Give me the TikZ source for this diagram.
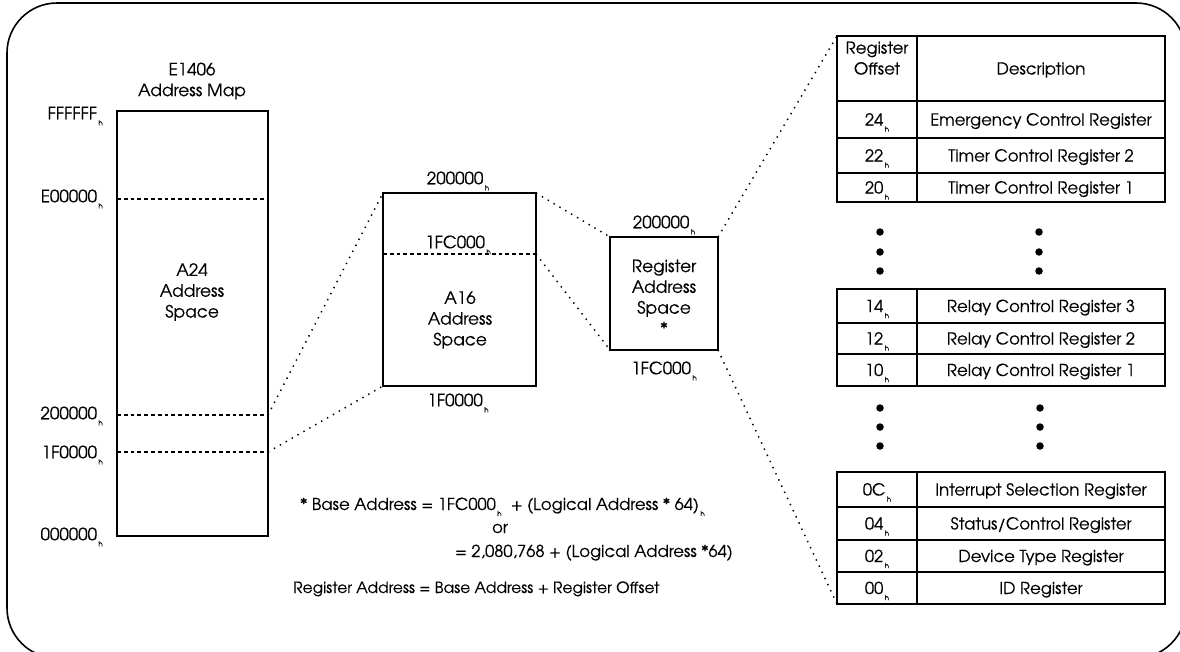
\documentclass[tikz,border=0pt]{standalone}
\usepackage{fontspec}
\setmainfont{TeX Gyre Adventor}[FakeBold=0.3]
\newcommand{\hs}{\kern1.5pt\raisebox{-6pt}{\fontsize{7}{7}\selectfont h}}
\newcommand{\regrow}[5]{%
  \node[cell, minimum width=80pt, minimum height=#3pt] (#1o) at (837,#2) {#4};
  \node[cell, minimum width=248pt, minimum height=#3pt] (#1d) at (917,#2) {#5};}
\begin{document}
\begin{tikzpicture}[x=1pt,y=-1pt,
  every node/.style={font=\fontsize{17}{20.8}\selectfont},
  box/.style={draw, line width=1.5pt, inner sep=0pt, outer sep=0pt, anchor=north west},
  cell/.style={draw, line width=1.5pt, inner sep=0pt, outer sep=0pt, anchor=north west,
    text height=12pt, text depth=0pt, align=center, font=\fontsize{16.5}{20.8}\selectfont},
  lbl/.style={inner sep=0pt, text height=12.5pt, text depth=0pt},
  txt/.style={inner sep=0pt, align=center},
  frm/.style={inner sep=0pt, font=\fontsize{16.5}{19}\selectfont},
  frmb/.style={inner sep=0pt, font=\fontsize{15.5}{19}\selectfont},
  dline/.style={line width=1.6pt, dash pattern=on 3.8pt off 3pt},
  dotline/.style={line width=1.5pt, dash pattern=on 1.4pt off 5.4pt},
  bigdot/.style={circle, fill, inner sep=0pt, minimum size=7.5pt}]
\useasboundingbox (0,0) rectangle (1180,651);
\begin{scope}
  \clip (0,0) rectangle (1180,651);
  \draw[line width=1.6pt, rounded corners=50pt] (7,3) rectangle (1186,658);
\end{scope}

% A24 map
\node[txt] (title) at (192,81) {E1406\\Address Map};
\node[box, minimum width=151pt, minimum height=425pt] (a24) at (117,111) {};
\node[txt] (a24t) at (192,292) {A24\\Address\\Space};
\coordinate (e0L) at (117,199); \coordinate (e0R) at (268,199);
\coordinate (m2L) at (117,415); \coordinate (m2R) at (268,415);
\coordinate (m1L) at (117,452); \coordinate (m1R) at (268,452);
\draw[dline] (e0L) -- (e0R);
\draw[dline] (m2L) -- (m2R);
\draw[dline] (m1L) -- (m1R);
\node[lbl, anchor=east] (lf) at (103,113) {FFFFFF\hs};
\node[lbl, anchor=east] (le) at (103,196) {E00000\hs};
\node[lbl, anchor=east] (l2) at (103,413) {200000\hs};
\node[lbl, anchor=east] (l1) at (103,452) {1F0000\hs};
\node[lbl, anchor=east] (l0) at (103,534) {000000\hs};

% A16
\node[box, minimum width=153pt, minimum height=193pt] (a16) at (383,193) {};
\coordinate (cL) at (383,254); \coordinate (cR) at (536,254);
\draw[dline] (cL) -- (cR);
\node[txt] (a16t) at (460,320) {A16\\Address\\Space};
\node[lbl] (a16top) at (458,178) {200000\hs};
\node[lbl] (a16mid) at (458,242) {1FC000\hs};
\node[lbl] (a16bot) at (458,400) {1F0000\hs};

% Register space
\node[box, minimum width=108pt, minimum height=113pt] (reg) at (610,237) {};
\node[txt] (regt) at (664,297) {Register\\Address\\Space\\*};
\node[lbl] (regtop) at (664,222) {200000\hs};
\node[lbl] (regbot) at (664,368) {1FC000\hs};

% connectors
\draw[dotline] (m2R) -- (a16.north west);
\draw[dotline] (m1R) -- (a16.south west);
\draw[dotline] (a16.north east) -- (reg.north west);
\draw[dotline] (cR) -- (reg.south west);

% table
\regrow{h}{36}{65}{Register\\Offset}{Description}
\regrow{r24}{101}{37}{24\hs}{Emergency Control Register}
\regrow{r22}{138}{35}{22\hs}{Timer Control Register 2}
\regrow{r20}{173}{29}{20\hs}{Timer Control Register 1}
\regrow{r14}{289}{34}{14\hs}{Relay Control Register 3}
\regrow{r12}{323}{31}{12\hs}{Relay Control Register 2}
\regrow{r10}{354}{32}{10\hs}{Relay Control Register 1}
\regrow{r0c}{472}{35}{0C\hs}{Interrupt Selection Register}
\regrow{r04}{507}{33}{04\hs}{Status/Control Register}
\regrow{r02}{540}{32}{02\hs}{Device Type Register}
\regrow{r00}{572}{32}{00\hs}{ID Register}

\draw[dotline] (reg.north east) -- (ho.north west);
\draw[dotline] (reg.south east) -- (r00o.south west);

% ellipsis dots
\foreach \yy [count=\i] in {232,252,271} {
  \node[bigdot] (da\i) at (880,\yy) {};
  \node[bigdot] (db\i) at (1039,\yy) {};
}
\foreach \yy [count=\i] in {408,427,446} {
  \node[bigdot] (dc\i) at (880,\yy) {};
  \node[bigdot] (dd\i) at (1040,\yy) {};
}

% formulas
\node[frm, anchor=base west] (f1) at (300,510) {* Base Address = 1FC000\hs\ \ + (Logical Address * 64)\hs};
\node[frm, anchor=base] (f2) at (500,533) {or};
\node[frm, anchor=base east] (f3) at (733,557) {= 2,080,768 + (Logical Address *64)};
\node[frmb, anchor=base west] (f4) at (293,593) {Register Address = Base Address + Register Offset};
\end{tikzpicture}
\end{document}
